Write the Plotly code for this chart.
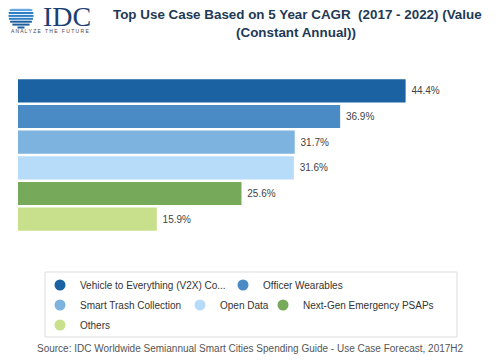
import math
import plotly.graph_objects as go

categories = ["Vehicle to Everything (V2X) Co...", "Officer Wearables", "Smart Trash Collection",
              "Open Data", "Next-Gen Emergency PSAPs", "Others"]
values = [44.4, 36.9, 31.7, 31.6, 25.6, 15.9]
colors = ["#1a62a1", "#4b8bc5", "#7db3df", "#b7dcfa", "#77a95b", "#c8df8b"]

# page offset caused by the default body margin of the html page
OFF = 8
W, H = 500 - OFF, 362 - OFF
PLOT_L, PLOT_R, PLOT_T, PLOT_B = 18, 480, 78, 232   # page pixels
L, T = PLOT_L - OFF, PLOT_T - OFF
R, B = W - (PLOT_R - OFF), H - (PLOT_B - OFF)
PW, PH = W - L - R, H - T - B


def px2x(px):
    return (px - OFF - L) / PW


def px2y(py):
    return (H - B - (py - OFF)) / PH


fig = go.Figure()
fig.add_trace(go.Bar(
    y=categories, x=values, orientation="h",
    marker=dict(color=colors, line=dict(width=0)),
    text=[f"\u00a0{v:.1f}%" for v in values], textposition="outside",
    textfont=dict(family="Liberation Sans, Arial", size=10, color="#444"),
    cliponaxis=False, showlegend=False, hoverinfo="x+y",
))

# legend entry positions (page pixels of marker centre)
legend_pos = [(60, 285), (243, 285), (60, 305), (200, 305), (283, 305), (60, 325)]
legend_keys = ["legend"] + [f"legend{i}" for i in range(2, 7)]
for name, c, key in zip(categories, colors, legend_keys):
    fig.add_trace(go.Scatter(
        x=[None], y=[None], mode="markers", name=name,
        marker=dict(symbol="circle", size=11, color=c),
        legend=key, showlegend=True,
    ))

shapes = []
shapes.append(dict(type="rect", xref="paper", yref="paper",
                   x0=px2x(45), x1=px2x(457), y0=px2y(337), y1=px2y(272),
                   line=dict(color="#dddddd", width=1), fillcolor="rgba(0,0,0,0)"))

# decorative IDC globe (stripes)
cx, cy, r = 21, 15.5, 12.5
for i in range(9):
    yy = cy - r + 1.3 + i * 2.9
    dy = yy - cy
    if abs(dy) >= r:
        continue
    half = math.sqrt(r * r - dy * dy)
    col = "#5aa3e0" if i < 3 else ("#2f7fc4" if i < 6 else "#1d5e9e")
    shapes.append(dict(type="line", xref="paper", yref="paper",
                       x0=px2x(cx - half), x1=px2x(cx + half), y0=px2y(yy), y1=px2y(yy),
                       line=dict(color=col, width=2)))

title_font = dict(family="Liberation Sans, Arial", size=13.4, color="#1e3a56")
annotations = [
    dict(text="<b>Top Use Case Based on 5 Year CAGR  (2017 - 2022) (Value</b>",
         xref="paper", yref="paper", x=px2x(297), y=px2y(15), xanchor="center", yanchor="middle",
         showarrow=False, font=title_font),
    dict(text="<b>(Constant Annual))</b>",
         xref="paper", yref="paper", x=px2x(296), y=px2y(32), xanchor="center", yanchor="middle",
         showarrow=False, font=title_font),
    dict(text="IDC", xref="paper", yref="paper", x=px2x(67), y=px2y(16),
         xanchor="center", yanchor="middle", showarrow=False,
         font=dict(family="Liberation Serif, DejaVu Serif", size=28, color="#1b3f73")),
    dict(text="A N A L Y Z E   T H E   F U T U R E", xref="paper", yref="paper", x=px2x(50), y=px2y(31),
         xanchor="center", yanchor="middle", showarrow=False,
         font=dict(family="Liberation Sans, Arial", size=5, color="#445")),
    dict(text="Source: IDC Worldwide Semiannual Smart Cities Spending Guide - Use Case Forecast, 2017H2",
         xref="paper", yref="paper", x=px2x(250), y=px2y(348), xanchor="center", yanchor="middle",
         showarrow=False, font=dict(family="Liberation Sans, Arial", size=10, color="#555")),
]

legend_common = dict(orientation="h", xanchor="left", yanchor="middle", bgcolor="rgba(0,0,0,0)",
                     font=dict(family="Liberation Sans, Arial", size=10, color="#333"),
                     itemclick=False, itemdoubleclick=False)
legends = {}
for key, (mx, my) in zip(legend_keys, legend_pos):
    legends[key] = dict(x=px2x(mx - 20), y=px2y(my), **legend_common)

fig.update_layout(
    width=W, height=H, margin=dict(l=L, r=R, t=T, b=B),
    paper_bgcolor="white", plot_bgcolor="white",
    xaxis=dict(range=[0, (PLOT_R - PLOT_L) / 8.73], visible=False, fixedrange=True),
    yaxis=dict(autorange="reversed", visible=False, fixedrange=True),
    bargap=0.1,
    shapes=shapes, annotations=annotations,
    **legends,
)

fig.write_html("out.html")
